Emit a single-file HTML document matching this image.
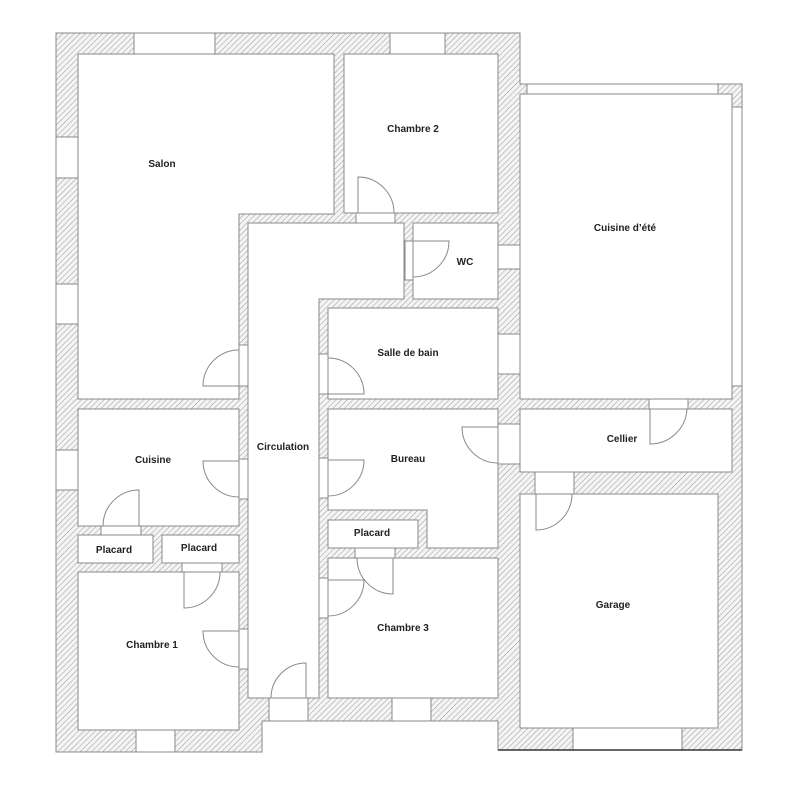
<!DOCTYPE html>
<html><head><meta charset="utf-8"><style>
html,body{margin:0;padding:0;background:#fff;}
svg{display:block;}
text{font-family:"Liberation Sans",sans-serif;font-weight:bold;font-size:10px;fill:#222;text-anchor:middle;}
</style></head><body>
<svg width="800" height="803" viewBox="0 0 800 803" xmlns="http://www.w3.org/2000/svg">
<defs>
<pattern id="h" width="4" height="4" patternUnits="userSpaceOnUse" patternTransform="rotate(45)">
<rect width="4" height="4" fill="#f4f4f4"/>
<line x1="0" y1="0" x2="0" y2="4" stroke="#9a9a9a" stroke-width="1"/>
</pattern>
</defs>
<g stroke="#8a8a8a" stroke-width="1">
<polygon points="56,33 520,33 520,84 742,84 742,750 498,750 498,721 262,721 262,752 56,752" fill="url(#h)"/>
<g fill="#fff">
<polygon points="78,54 334,54 334,214 239,214 239,399 78,399"/>
<rect x="344" y="54" width="154" height="159"/>
<rect x="520" y="94" width="212" height="305"/>
<rect x="413" y="223" width="85" height="76"/>
<polygon points="248,223 404,223 404,299 319,299 319,698 248,698"/>
<rect x="328" y="308" width="170" height="91"/>
<polygon points="328,409 498,409 498,548 427,548 427,510 328,510"/>
<rect x="328" y="520" width="90" height="28"/>
<rect x="328" y="558" width="170" height="140"/>
<rect x="78" y="409" width="161" height="117"/>
<rect x="78" y="535" width="75" height="28"/>
<rect x="162" y="535" width="77" height="28"/>
<rect x="78" y="572" width="161" height="158"/>
<rect x="520" y="409" width="212" height="63"/>
<rect x="520" y="494" width="198" height="234"/>
<rect x="134" y="33" width="81" height="21"/>
<rect x="390" y="33" width="55" height="21"/>
<rect x="56" y="137" width="22" height="41"/>
<rect x="56" y="284" width="22" height="40"/>
<rect x="56" y="450" width="22" height="40"/>
<rect x="498" y="245" width="22" height="24"/>
<rect x="498" y="334" width="22" height="40"/>
<rect x="498" y="424" width="22" height="40"/>
<rect x="527" y="84" width="191" height="10"/>
<rect x="732" y="107" width="10" height="279"/>
<rect x="573" y="728" width="109" height="22"/>
<rect x="136" y="730" width="39" height="22"/>
<rect x="392" y="698" width="39" height="23"/>
<rect x="356" y="213" width="39" height="10"/>
<rect x="405" y="241" width="8" height="39"/>
<rect x="239" y="345" width="9" height="41"/>
<rect x="319" y="354" width="9" height="40"/>
<rect x="239" y="459" width="9" height="40"/>
<rect x="101" y="526" width="40" height="9"/>
<rect x="182" y="563" width="40" height="9"/>
<rect x="239" y="629" width="9" height="40"/>
<rect x="269" y="698" width="39" height="23"/>
<rect x="319" y="458" width="9" height="40"/>
<rect x="355" y="548" width="40" height="10"/>
<rect x="319" y="578" width="9" height="40"/>
<rect x="649" y="399" width="39" height="10"/>
<rect x="535" y="472" width="39" height="22"/>
</g>
<g fill="none" stroke="#888" stroke-width="1">
<path d="M358,213 V177 A36,36 0 0 1 394,213"/>
<path d="M413,241 H449 A36,36 0 0 1 413,277"/>
<path d="M239,386 H203 A36,36 0 0 1 239,350"/>
<path d="M328,394 H364 A36,36 0 0 0 328,358"/>
<path d="M239,461 H203 A36,36 0 0 0 239,497"/>
<path d="M139,526 V490 A36,36 0 0 0 103,526"/>
<path d="M184,572 V608 A36,36 0 0 0 220,572"/>
<path d="M239,631 H203 A36,36 0 0 0 239,667"/>
<path d="M306,698 V663 A35,35 0 0 0 271,698"/>
<path d="M328,460 H364 A36,36 0 0 1 328,496"/>
<path d="M393,558 V594 A36,36 0 0 1 357,558"/>
<path d="M328,580 H364 A36,36 0 0 1 328,616"/>
<path d="M498,427 H462 A36,36 0 0 0 498,463"/>
<path d="M650,409 V444 A37,37 0 0 0 687,409"/>
<path d="M536,494 V530 A36,36 0 0 0 572,494"/>
</g>
</g>
<line x1="498" y1="750" x2="742" y2="750" stroke="#333" stroke-width="1.5"/>
<text x="162" y="167">Salon</text>
<text x="413" y="132">Chambre 2</text>
<text x="625" y="231">Cuisine d’été</text>
<text x="465" y="265">WC</text>
<text x="408" y="356">Salle de bain</text>
<text x="283" y="450">Circulation</text>
<text x="153" y="463">Cuisine</text>
<text x="408" y="462">Bureau</text>
<text x="622" y="442">Cellier</text>
<text x="114" y="553">Placard</text>
<text x="199" y="551">Placard</text>
<text x="372" y="536">Placard</text>
<text x="152" y="648">Chambre 1</text>
<text x="403" y="631">Chambre 3</text>
<text x="613" y="608">Garage</text>
</svg>
</body></html>
